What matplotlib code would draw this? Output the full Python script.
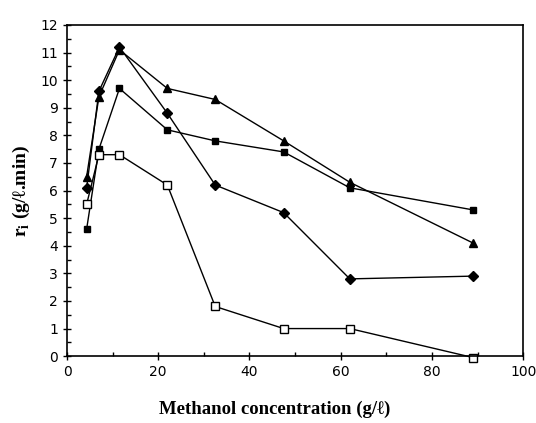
import matplotlib
matplotlib.use('Agg')
import matplotlib.pyplot as plt
from matplotlib.ticker import MultipleLocator

# data
methanol = [4.3, 7, 11.5, 22, 32.5, 47.5, 62, 89]
rate_diamond = [6.1, 9.6, 11.2, 8.8, 6.2, 5.2, 2.8, 2.9]
rate_triangle = [6.5, 9.4, 11.1, 9.7, 9.3, 7.8, 6.3, 4.1]
rate_square = [4.6, 7.5, 9.7, 8.2, 7.8, 7.4, 6.1, 5.3]
rate_open_square = [5.5, 7.3, 7.3, 6.2, 1.8, 1.0, 1.0, -0.05]

fig = plt.figure(figsize=(5.36, 4.23), dpi=100)
ax = fig.add_axes([0.125, 0.158, 0.851, 0.783])

line_kw = dict(color='black', linewidth=1.0, clip_on=False)
ax.plot(methanol, rate_diamond, marker='D', markersize=5, **line_kw)
ax.plot(methanol, rate_triangle, marker='^', markersize=6, **line_kw)
ax.plot(methanol, rate_square, marker='s', markersize=5, **line_kw)
ax.plot(methanol, rate_open_square, marker='s', markersize=5.5,
        markerfacecolor='white', markeredgewidth=1.0, **line_kw)

ax.set_xlim(0, 100)
ax.set_ylim(0, 12)
ax.xaxis.set_major_locator(MultipleLocator(20))
ax.xaxis.set_minor_locator(MultipleLocator(10))
ax.yaxis.set_major_locator(MultipleLocator(1))
ax.yaxis.set_minor_locator(MultipleLocator(0.5))
ax.tick_params(which='major', direction='inout', length=6, width=1,
               top=False, right=False, labelsize=10)
ax.tick_params(which='minor', direction='in', length=3, width=1,
               top=False, right=False)
for s in ax.spines.values():
    s.set_linewidth(1.2)

serif = ['Liberation Serif', 'DejaVu Serif']
ax.set_xlabel('Methanol concentration (g/\u2113)', family=serif,
              fontweight='bold', fontsize=13.5, labelpad=12)
ax.xaxis.set_label_coords(0.455, -0.135)
ax.set_ylabel('r$_\\mathregular{i}$ (g/\u2113.min)', family=serif,
              fontweight='bold', fontsize=14, labelpad=6)

fig.savefig('out.png', dpi=100)
